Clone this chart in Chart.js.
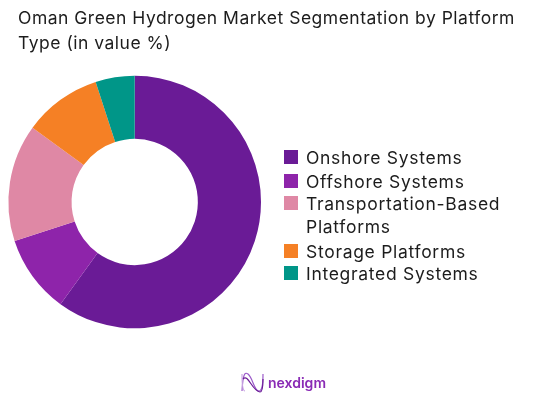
<!DOCTYPE html>
<html>
<head>
<meta charset="utf-8">
<script src="https://cdn.jsdelivr.net/npm/chart.js@4"></script>
<style>
  html, body { margin: 0; background: #fff; }
  #page { position: relative; width: 552px; height: 400px; overflow: hidden; font-family: "Inter", sans-serif; color: #1c1c1c; }
  #chart { position: absolute; left: 0; top: 0; }
  #title { position: absolute; left: 18px; top: 5px; width: 530px; font-size: 17.5px; line-height: 25px; letter-spacing: 0.5px; white-space: pre-line; }
  .row { position: absolute; left: 284px; width: 250px; font-size: 17.5px; line-height: 23px; letter-spacing: 0.7px; padding-left: 22px; box-sizing: border-box; }
  .swatch { position: absolute; left: 0; top: 4px; width: 14px; height: 14px; }
  #logo { position: absolute; left: 240px; top: 371px; width: 90px; height: 24px; }
  #logo span { position: absolute; left: 28px; top: 3px; font-size: 14px; font-weight: 600; color: #8a2bb5; }
</style>
</head>
<body>
<div id="page">
  <canvas id="chart" width="552" height="400"></canvas>
  <div id="title"></div>
  <div id="legend"></div>
  <div id="logo">
    <svg width="26" height="24" viewBox="0 0 26 24" fill="none" stroke="#9b59c9" stroke-width="1.2">
      <path d="M2 20 C3 2 5 1 8 3 C13 7 14 20 19 20 C22 20 23 14 23 3"/>
      <path d="M2 3 C2 14 3 20 5 20" stroke="#c9a5e2"/>
      <path d="M3 8 C8 2 12 20 20 21 C22 21 23 16 23 8" stroke="#6a1b96"/>
    </svg>
    <span>nexdigm</span>
  </div>
</div>
<script>
const titleLines = ['Oman Green Hydrogen Market Segmentation by Platform', 'Type (in value %)'];
const categories = ['Onshore Systems', 'Offshore Systems', 'Transportation-Based Platforms', 'Storage Platforms', 'Integrated Systems'];
const shares = [60, 10, 15, 10, 5];
const colors = ['#6A1B96', '#8E24AA', '#DF88A5', '#F58025', '#009688'];
const legendTops = [146, 170, 192, 240, 262];

document.getElementById('title').textContent = titleLines.join('\n');

document.getElementById('legend').innerHTML = categories.map((name, i) => `
  <div class="row" style="top:${legendTops[i]}px">
    <div class="swatch" style="background:${colors[i]}"></div>${name}
  </div>
`).join('');

new Chart(document.getElementById('chart'), {
  type: 'doughnut',
  data: {
    labels: categories,
    datasets: [{ data: shares, backgroundColor: colors, borderWidth: 0 }]
  },
  options: {
    responsive: false,
    animation: false,
    cutout: '50%',
    layout: { padding: { left: 8.4, top: 75.7, right: 291, bottom: 71.7 } },
    plugins: { legend: { display: false }, title: { display: false }, tooltip: { enabled: false } }
  }
});
</script>
</body>
</html>
